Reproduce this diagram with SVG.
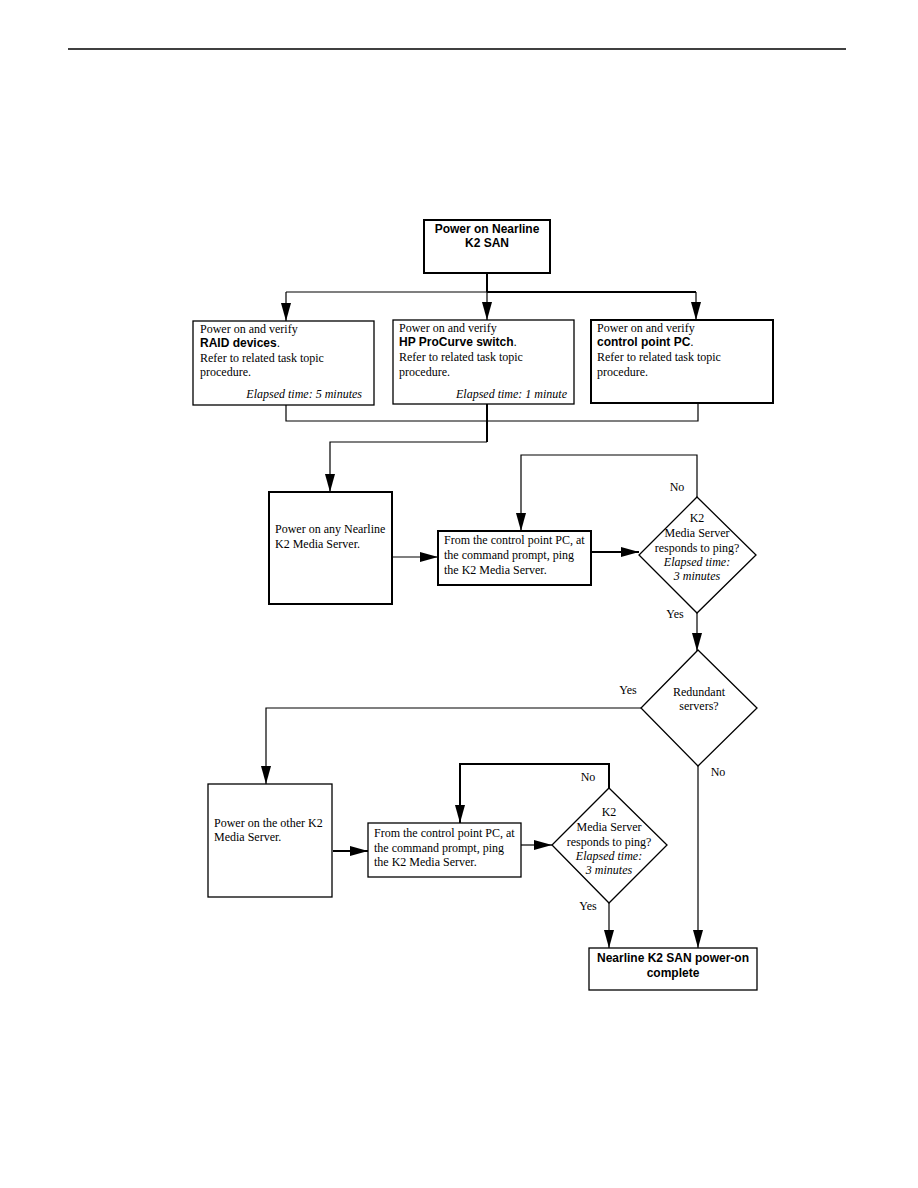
<svg xmlns="http://www.w3.org/2000/svg" width="918" height="1188" viewBox="0 0 918 1188">
<style>
.box{fill:#fff;stroke:#000;stroke-width:1.3}
.thick{stroke-width:2}
.ln{fill:none;stroke:#000;stroke-width:1.2}
.lnb{fill:none;stroke:#000;stroke-width:2}
.t{font-family:"Liberation Serif","Times New Roman",serif;font-size:12px;fill:#000}
.b{font-family:"Liberation Sans",Arial,sans-serif;font-size:12px;font-weight:bold;fill:#000}
.i{font-style:italic}
.c{text-anchor:middle}
.e{text-anchor:end}
</style>
<defs>
<marker id="ah" markerUnits="userSpaceOnUse" markerWidth="18" markerHeight="10" refX="18" refY="5" orient="auto">
<path d="M0,0 L18,5 L0,10 Z" fill="#000"/>
</marker>
</defs>
<rect width="918" height="1188" fill="#fff"/>
<line x1="68" y1="49" x2="846" y2="49" stroke="#000" stroke-width="1.5"/>

<g id="connectors">
<line class="lnb" x1="487" y1="273" x2="487" y2="292"/>
<line class="ln" x1="286" y1="292" x2="487" y2="292"/>
<line class="lnb" x1="487" y1="292" x2="696" y2="292"/>
<line class="ln" x1="286" y1="292" x2="286" y2="321" marker-end="url(#ah)"/>
<line class="ln" x1="487" y1="292" x2="487" y2="320" marker-end="url(#ah)"/>
<line class="ln" x1="696" y1="292" x2="696" y2="320" marker-end="url(#ah)"/>
<polyline class="ln" points="286,405 286,421 698,421 698,403"/>
<line class="lnb" x1="487" y1="404" x2="487" y2="442"/>
<polyline class="ln" points="487,442 330,442 330,492" marker-end="url(#ah)"/>
<line class="ln" x1="392" y1="557" x2="438" y2="557" marker-end="url(#ah)"/>
<line class="lnb" x1="591" y1="552" x2="639" y2="552" marker-end="url(#ah)"/>
<polyline class="ln" points="697,497 697,455 521,455 521,531" marker-end="url(#ah)"/>
<line class="ln" x1="697" y1="613" x2="697" y2="651" marker-end="url(#ah)"/>
<polyline class="ln" points="641,708 266,708 266,784" marker-end="url(#ah)"/>
<line class="ln" x1="698" y1="766" x2="698" y2="948" marker-end="url(#ah)"/>
<line class="lnb" x1="333" y1="851" x2="368" y2="851" marker-end="url(#ah)"/>
<line class="ln" x1="521" y1="845" x2="552" y2="845" marker-end="url(#ah)"/>
<polyline class="lnb" points="609,788 609,764 460,764 460,823" marker-end="url(#ah)"/>
<line class="ln" x1="609" y1="903" x2="609" y2="948" marker-end="url(#ah)"/>
<text class="t c" x="677" y="491">No</text>
<text class="t c" x="675" y="618">Yes</text>
<text class="t c" x="628" y="694">Yes</text>
<text class="t c" x="718" y="776">No</text>
<text class="t c" x="588" y="781">No</text>
<text class="t c" x="588" y="910">Yes</text>
</g>

<g id="start">
<rect class="box thick" x="424" y="220" width="126" height="53"/>
<text class="b c" x="487" y="233">Power on Nearline</text>
<text class="b c" x="487" y="247">K2 SAN</text>
</g>

<g id="raid">
<rect class="box" x="193" y="321" width="181" height="84"/>
<text class="t" x="200" y="333">Power on and verify</text>
<text class="b" x="200" y="347">RAID devices<tspan font-weight="normal">.</tspan></text>
<text class="t" x="200" y="362">Refer to related task topic</text>
<text class="t" x="200" y="376">procedure.</text>
<text class="t i e" x="362" y="398">Elapsed time: 5 minutes</text>
</g>

<g id="switch">
<rect class="box" x="393" y="320" width="181" height="84"/>
<text class="t" x="399" y="332">Power on and verify</text>
<text class="b" x="399" y="346">HP ProCurve switch<tspan font-weight="normal">.</tspan></text>
<text class="t" x="399" y="361">Refer to related task topic</text>
<text class="t" x="399" y="376">procedure.</text>
<text class="t i e" x="567" y="398">Elapsed time: 1 minute</text>
</g>

<g id="pc">
<rect class="box thick" x="591" y="320" width="182" height="83"/>
<text class="t" x="597" y="332">Power on and verify</text>
<text class="b" x="597" y="346">control point PC<tspan font-weight="normal">.</tspan></text>
<text class="t" x="597" y="361">Refer to related task topic</text>
<text class="t" x="597" y="376">procedure.</text>
</g>

<g id="server1">
<rect class="box thick" x="269" y="492" width="123" height="112"/>
<text class="t" x="275" y="533">Power on any Nearline</text>
<text class="t" x="275" y="548">K2 Media Server.</text>
</g>

<g id="ping1">
<rect class="box thick" x="438" y="531" width="153" height="54"/>
<text class="t" x="444" y="544">From the control point PC, at</text>
<text class="t" x="444" y="559">the command prompt, ping</text>
<text class="t" x="444" y="574">the K2 Media Server.</text>
</g>

<g id="decision1">
<polygon class="box" points="697,497 756,555 697,613 639,555"/>
<text class="t c" x="697" y="522">K2</text>
<text class="t c" x="697" y="537">Media Server</text>
<text class="t c" x="697" y="552">responds to ping?</text>
<text class="t c i" x="697" y="566">Elapsed time:</text>
<text class="t c i" x="697" y="580">3 minutes</text>
</g>

<g id="redundant">
<polygon class="box" points="698,650 757,708 698,766 641,708"/>
<text class="t c" x="699" y="696">Redundant</text>
<text class="t c" x="699" y="710">servers?</text>
</g>

<g id="server2">
<rect class="box" x="208" y="784" width="124" height="113"/>
<text class="t" x="214" y="827">Power on the other K2</text>
<text class="t" x="214" y="841">Media Server.</text>
</g>

<g id="ping2">
<rect class="box" x="368" y="823" width="153" height="54"/>
<text class="t" x="374" y="837">From the control point PC, at</text>
<text class="t" x="374" y="852">the command prompt, ping</text>
<text class="t" x="374" y="866">the K2 Media Server.</text>
</g>

<g id="decision2">
<polygon class="box" points="609,788 667,845 609,903 552,845"/>
<text class="t c" x="609" y="816">K2</text>
<text class="t c" x="609" y="831">Media Server</text>
<text class="t c" x="609" y="846">responds to ping?</text>
<text class="t c i" x="609" y="860">Elapsed time:</text>
<text class="t c i" x="609" y="874">3 minutes</text>
</g>

<g id="complete">
<rect class="box" x="589" y="948" width="168" height="42"/>
<text class="b c" x="673" y="962">Nearline K2 SAN power-on</text>
<text class="b c" x="673" y="977">complete</text>
</g>
</svg>
